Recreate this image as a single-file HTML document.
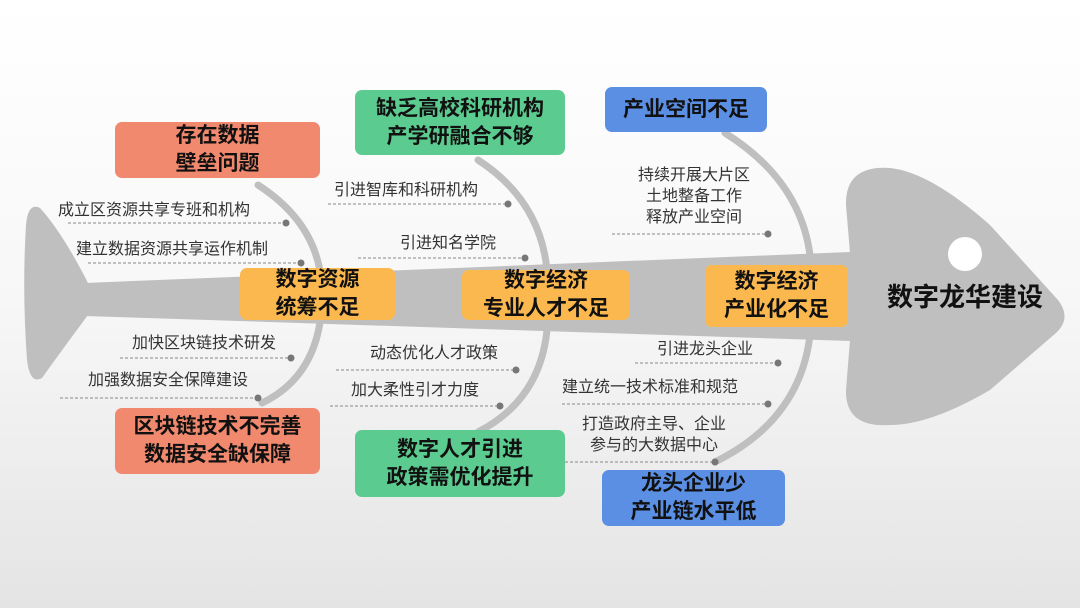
<!DOCTYPE html>
<html><head><meta charset="utf-8"><style>
html,body{margin:0;padding:0}
body{width:1080px;height:608px;overflow:hidden;background:linear-gradient(#ffffff 0%,#f7f7f7 50%,#e4e4e4 100%);font-family:"Liberation Sans","Noto Sans CJK SC",sans-serif}
svg{position:absolute;left:0;top:0}
.b{position:absolute;border-radius:7px;display:flex;align-items:center;justify-content:center;text-align:center;font-weight:bold;font-size:21px;line-height:28px;color:#111}
.r{background:#f0896e}.g{background:#5ccb8f}.u{background:#5b8fe3}.o{background:#fbb84f}
.t{position:absolute;font-size:16px;color:#333;white-space:nowrap;line-height:21px}
</style></head><body>
<svg width="1080" height="608">
<g fill="#bfbfbf">
<path d="M88,283 Q62,232 40,208 Q28,202 26,225 Q22,290 27,360 Q30,385 42,378 Q62,350 88,315 Z"/>
<path d="M85,283 L850,252 L850,341 L85,316 Z"/>
<path d="M850,253 L846,205 Q845,165 890,168 Q930,172 990,225 L1058,300 Q1072,318 1056,333 L990,390 Q930,425 890,425 Q845,428 846,390 L850,340 Z"/>
</g>
<circle cx="965" cy="254" r="17" fill="#fff"/>
<g fill="none" stroke="#bfbfbf" stroke-width="7" stroke-linecap="round">
<path d="M258,185 Q320,225 322,290"/>
<path d="M322,300 Q320,375 262,403"/>
<path d="M478,160 Q540,200 547,270"/>
<path d="M547,330 Q540,400 478,432"/>
<path d="M725,133 Q800,180 810,255"/>
<path d="M810,335 Q800,420 715,462"/>
</g>
<g stroke="#888" stroke-width="1" stroke-dasharray="3,2" fill="#777">
<line x1="68" y1="223" x2="286" y2="223"/><circle cx="286" cy="223" r="3.5" stroke="none"/>
<line x1="88" y1="263" x2="301" y2="263"/><circle cx="301" cy="263" r="3.5" stroke="none"/>
<line x1="120" y1="358" x2="291" y2="358"/><circle cx="291" cy="358" r="3.5" stroke="none"/>
<line x1="60" y1="398" x2="258" y2="398"/><circle cx="258" cy="398" r="3.5" stroke="none"/>
<line x1="328" y1="204" x2="508" y2="204"/><circle cx="508" cy="204" r="3.5" stroke="none"/>
<line x1="358" y1="258" x2="525" y2="258"/><circle cx="525" cy="258" r="3.5" stroke="none"/>
<line x1="336" y1="370" x2="516" y2="370"/><circle cx="516" cy="370" r="3.5" stroke="none"/>
<line x1="330" y1="406" x2="500" y2="406"/><circle cx="500" cy="406" r="3.5" stroke="none"/>
<line x1="612" y1="234" x2="768" y2="234"/><circle cx="768" cy="234" r="3.5" stroke="none"/>
<line x1="635" y1="363" x2="778" y2="363"/><circle cx="778" cy="363" r="3.5" stroke="none"/>
<line x1="562" y1="404" x2="768" y2="404"/><circle cx="768" cy="404" r="3.5" stroke="none"/>
<line x1="560" y1="462" x2="715" y2="462"/><circle cx="715" cy="462" r="3.5" stroke="none"/>
</g>
<text x="965" y="306" text-anchor="middle" font-size="26" font-weight="bold" fill="#111" font-family="Liberation Sans, Noto Sans CJK SC, sans-serif">数字龙华建设</text>
</svg>
<div class="b r" style="left:115px;top:122px;width:205px;height:56px">存在数据<br>壁垒问题</div>
<div class="b g" style="left:355px;top:90px;width:210px;height:65px">缺乏高校科研机构<br>产学研融合不够</div>
<div class="b u" style="left:605px;top:87px;width:162px;height:45px">产业空间不足</div>
<div class="b o" style="left:240px;top:268px;width:155px;height:52px">数字资源<br>统筹不足</div>
<div class="b o" style="left:462px;top:270px;width:168px;height:50px">数字经济<br>专业人才不足</div>
<div class="b o" style="left:705px;top:265px;width:143px;height:62px">数字经济<br>产业化不足</div>
<div class="b r" style="left:115px;top:408px;width:205px;height:66px">区块链技术不完善<br>数据安全缺保障</div>
<div class="b g" style="left:355px;top:430px;width:210px;height:67px">数字人才引进<br>政策需优化提升</div>
<div class="b u" style="left:602px;top:470px;width:183px;height:56px">龙头企业少<br>产业链水平低</div>
<div class="t" style="left:58px;top:200px">成立区资源共享专班和机构</div>
<div class="t" style="left:76px;top:239px">建立数据资源共享运作机制</div>
<div class="t" style="left:132px;top:333px">加快区块链技术研发</div>
<div class="t" style="left:88px;top:370px">加强数据安全保障建设</div>
<div class="t" style="left:334px;top:180px">引进智库和科研机构</div>
<div class="t" style="left:400px;top:233px">引进知名学院</div>
<div class="t" style="left:370px;top:343px">动态优化人才政策</div>
<div class="t" style="left:351px;top:380px">加大柔性引才力度</div>
<div class="t" style="left:630px;top:165px;width:128px;text-align:center">持续开展大片区<br>土地整备工作<br>释放产业空间</div>
<div class="t" style="left:657px;top:339px">引进龙头企业</div>
<div class="t" style="left:562px;top:377px">建立统一技术标准和规范</div>
<div class="t" style="left:574px;top:414px;width:160px;text-align:center">打造政府主导、企业<br>参与的大数据中心</div>
</body></html>
